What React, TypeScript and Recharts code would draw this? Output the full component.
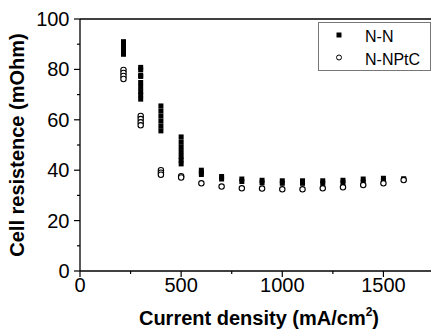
import React from "react";
import { ScatterChart, Scatter, XAxis, YAxis, Legend, Label, ReferenceLine } from "recharts";

// current density steps (mA/cm2)
const currentDensity = [215, 300, 400, 500, 600, 700, 800, 900, 1000, 1100, 1200, 1300, 1400, 1500, 1600];

// N-N cell resistance readings at each current step (mOhm)
const nnResistance = [
  [91, 89.7, 88.4, 87.2, 86],
  [80.8, 79.8, 77.6, 77.2, 74.8, 73.0, 71.2, 69.8, 68.2],
  [65.5, 63.5, 61.5, 59.5, 57.5, 55.6],
  [53.2, 51.2, 49.3, 47.4, 45.5, 44, 42.5],
  [40, 39, 38.3],
  [37.5, 36.5],
  [36.5, 35.5],
  [36, 35],
  [35.8, 34.8],
  [35.8, 34.8],
  [35.8, 34.8],
  [36, 35],
  [36.5, 35.3],
  [36.8, 35.8],
  [36.6, 36.3],
];

// N-NPtC cell resistance readings (mOhm)
const ptcResistance = [
  [79.8, 78.6, 77.4, 76.2],
  [61.5, 60.3, 59, 57.8],
  [40, 39, 38.2],
  [37.6, 37.1],
  [34.8],
  [33.5],
  [32.8],
  [32.7],
  [32.4],
  [32.4],
  [32.8],
  [33.2],
  [34.1],
  [34.8],
  [36.1],
];

const xTicks = [0, 250, 500, 750, 1000, 1250, 1500];
const yTicks = [0, 10, 20, 30, 40, 50, 60, 70, 80, 90, 100];

const FONT = "'Liberation Sans', Arial, sans-serif";

const toPoints = (runs: number[][]) =>
  runs.flatMap((vals, i) => vals.map((y) => ({ x: currentDensity[i], y })));

const nnData = toPoints(nnResistance);
const ptcData = toPoints(ptcResistance);

const SquareDot = (props: any) => {
  const { cx, cy } = props;
  return <rect x={cx - 2.5} y={cy - 2.5} width={5} height={5} fill="#000" />;
};

const OpenDot = (props: any) => {
  const { cx, cy } = props;
  return <circle cx={cx} cy={cy} r={2.7} fill="#fff" stroke="#000" strokeWidth={1.1} />;
};

const XTick = (props: any) => {
  const { x, y, payload } = props;
  const major = payload.value % 500 === 0;
  return (
    <g>
      <line x1={x} y1={y} x2={x} y2={y + (major ? 6 : 3)} stroke="#000" strokeWidth={1.2} />
      {major && (
        <text x={x} y={y + 21} textAnchor="middle" fontSize={20} fontFamily={FONT} fill="#000">
          {payload.value}
        </text>
      )}
    </g>
  );
};

const YTick = (props: any) => {
  const { x, y, payload } = props;
  const major = payload.value % 20 === 0;
  return (
    <g>
      <line x1={x} y1={y} x2={x - (major ? 6 : 3)} y2={y} stroke="#000" strokeWidth={1.2} />
      {major && (
        <text x={x - 10.5} y={y + 7} textAnchor="end" fontSize={20} fontFamily={FONT} fill="#000">
          {payload.value}
        </text>
      )}
    </g>
  );
};

const XTitle = (props: any) => {
  const { viewBox } = props;
  const cx = viewBox.x + viewBox.width / 2 + 2;
  return (
    <text x={cx} y={viewBox.y + 54} textAnchor="middle" fontSize={20} fontWeight="bold" fontFamily={FONT} fill="#000">
      Current density (mA/cm
      <tspan fontSize={12} dy={-9}>2</tspan>
      <tspan dy={9}>)</tspan>
    </text>
  );
};

const YTitle = (props: any) => {
  const { viewBox } = props;
  const cy = viewBox.y + viewBox.height / 2;
  return (
    <text
      x={24}
      y={cy}
      transform={`rotate(-90, 24, ${cy})`}
      textAnchor="middle"
      fontSize={20}
      fontWeight="bold"
      fontFamily={FONT}
      fill="#000"
    >
      Cell resistence (mOhm)
    </text>
  );
};

const renderLegend = () => (
  <svg width={113} height={49} style={{ display: "block" }}>
    <rect x={0.5} y={0.5} width={112} height={48} fill="#fff" stroke="#777" />
    <rect x={18.5} y={10.5} width={5} height={5} fill="#000" />
    <text x={47} y={20} fontSize={16} fontFamily={FONT} fill="#000">N-N</text>
    <circle cx={21} cy={35.5} r={2.5} fill="#fff" stroke="#000" strokeWidth={1} />
    <text x={47} y={42.5} fontSize={16} fontFamily={FONT} fill="#000">N-NPtC</text>
  </svg>
);

export default function App() {
  return (
    <div style={{ position: "absolute", left: 0, top: 0, width: 431, height: 331, overflow: "hidden", background: "#fff" }}>
      <ScatterChart width={440} height={331} margin={{ top: 19, right: 6, left: 0, bottom: 0 }}>
        <XAxis
          type="number"
          dataKey="x"
          domain={[0, 1750]}
          ticks={xTicks}
          interval={0}
          tick={<XTick />}
          tickSize={0}
          tickMargin={0}
          tickLine={false}
          axisLine={{ stroke: "#000", strokeWidth: 1.3 }}
          height={60}
          allowDataOverflow
        >
          <Label content={<XTitle />} />
        </XAxis>
        <YAxis
          type="number"
          dataKey="y"
          domain={[0, 100]}
          ticks={yTicks}
          interval={0}
          tick={<YTick />}
          tickSize={0}
          tickMargin={0}
          tickLine={false}
          axisLine={{ stroke: "#000", strokeWidth: 1.3 }}
          width={80}
        >
          <Label content={<YTitle />} />
        </YAxis>
        <ReferenceLine y={100} stroke="#000" strokeWidth={1.3} />
        <Legend
          layout="horizontal"
          align="center"
          verticalAlign="middle"
          content={renderLegend}
          wrapperStyle={{ position: "absolute", left: 318, top: 22, width: 113, height: 49 }}
        />
        <Scatter name="N-N" data={nnData} shape={<SquareDot />} isAnimationActive={false} />
        <Scatter name="N-NPtC" data={ptcData} shape={<OpenDot />} isAnimationActive={false} />
      </ScatterChart>
    </div>
  );
}
